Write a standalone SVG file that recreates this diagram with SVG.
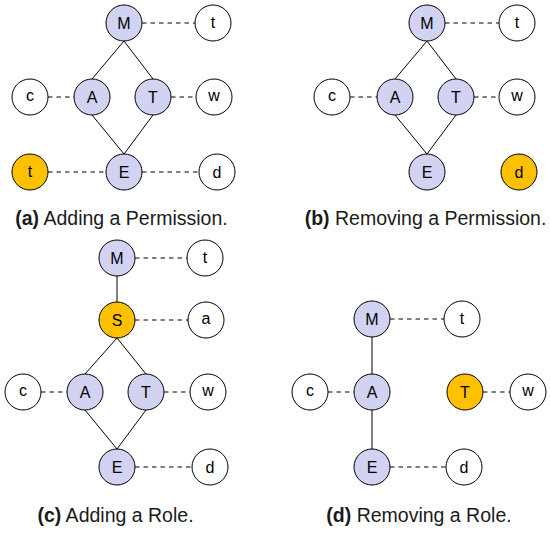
<svg xmlns="http://www.w3.org/2000/svg" width="550" height="534" viewBox="0 0 550 534">
<style>
  .n circle{stroke:#000;stroke-width:1;fill:#fff}
  .r circle{fill:#d2d2f2}
  .o circle{fill:#ffc000}
  .n text{font-family:"Liberation Sans","DejaVu Sans",sans-serif;font-size:16px;fill:#000;text-anchor:middle}
  .e line{stroke:#000;stroke-width:1;fill:none}
  .e line.d{stroke-dasharray:4.5,4}
  .cap{font-family:"Liberation Sans","DejaVu Sans",sans-serif;font-size:19.5px;fill:#1a1a1a;text-anchor:middle}
  .cap tspan{font-weight:bold}
</style>
<rect width="550" height="534" fill="#fff"/>

<!-- (a) -->
<g id="a-edges" class="e">
  <line x1="124" y1="41" x2="92" y2="79"/>
  <line x1="124" y1="41" x2="153" y2="79"/>
  <line x1="92" y1="115" x2="124" y2="154"/>
  <line x1="153" y1="115" x2="124" y2="154"/>
  <line class="d" x1="142" y1="23" x2="195" y2="23"/>
  <line class="d" x1="48" y1="97" x2="74" y2="97"/>
  <line class="d" x1="171" y1="97" x2="196" y2="97"/>
  <line class="d" x1="48" y1="172" x2="106" y2="172"/>
  <line class="d" x1="142" y1="172" x2="199" y2="172"/>
</g>
<g id="a-M" class="n r"><circle cx="124" cy="23" r="18"/><text x="124" y="28.7">M</text></g>
<g id="a-t" class="n"><circle cx="213" cy="23" r="18"/><text x="213" y="28.4">t</text></g>
<g id="a-c" class="n"><circle cx="30" cy="97" r="18"/><text x="30" y="101.2">c</text></g>
<g id="a-A" class="n r"><circle cx="92" cy="97" r="18"/><text x="92" y="102.7">A</text></g>
<g id="a-T" class="n r"><circle cx="153" cy="97" r="18"/><text x="153" y="102.7">T</text></g>
<g id="a-w" class="n"><circle cx="214" cy="97" r="18"/><text x="214" y="101.2">w</text></g>
<g id="a-t2" class="n o"><circle cx="30" cy="172" r="18"/><text x="30" y="177.4">t</text></g>
<g id="a-E" class="n r"><circle cx="124" cy="172" r="18"/><text x="124" y="177.7">E</text></g>
<g id="a-d" class="n"><circle cx="217" cy="172" r="18"/><text x="217" y="177.8">d</text></g>
<text class="cap" x="121.5" y="225"><tspan>(a)</tspan> Adding a Permission.</text>

<!-- (b) -->
<g id="b-edges" class="e">
  <line x1="427" y1="41" x2="395" y2="79"/>
  <line x1="427" y1="41" x2="456" y2="79"/>
  <line x1="395" y1="115" x2="427" y2="154"/>
  <line x1="456" y1="115" x2="427" y2="154"/>
  <line class="d" x1="445" y1="23" x2="499" y2="23"/>
  <line class="d" x1="350" y1="97" x2="377" y2="97"/>
  <line class="d" x1="474" y1="97" x2="499" y2="97"/>
</g>
<g id="b-M" class="n r"><circle cx="427" cy="23" r="18"/><text x="427" y="28.7">M</text></g>
<g id="b-t" class="n"><circle cx="517" cy="23" r="18"/><text x="517" y="28.4">t</text></g>
<g id="b-c" class="n"><circle cx="332" cy="97" r="18"/><text x="332" y="101.2">c</text></g>
<g id="b-A" class="n r"><circle cx="395" cy="97" r="18"/><text x="395" y="102.7">A</text></g>
<g id="b-T" class="n r"><circle cx="456" cy="97" r="18"/><text x="456" y="102.7">T</text></g>
<g id="b-w" class="n"><circle cx="517" cy="97" r="18"/><text x="517" y="101.2">w</text></g>
<g id="b-E" class="n r"><circle cx="427" cy="172" r="18"/><text x="427" y="177.7">E</text></g>
<g id="b-d" class="n o"><circle cx="519" cy="172" r="18"/><text x="519" y="177.8">d</text></g>
<text class="cap" x="425.5" y="225"><tspan>(b)</tspan> Removing a Permission.</text>

<!-- (c) -->
<g id="c-edges" class="e">
  <line x1="117" y1="276" x2="117" y2="302"/>
  <line x1="117" y1="338" x2="85" y2="374"/>
  <line x1="117" y1="338" x2="146" y2="374"/>
  <line x1="85" y1="410" x2="117" y2="449"/>
  <line x1="146" y1="410" x2="117" y2="449"/>
  <line class="d" x1="135" y1="258" x2="187" y2="258"/>
  <line class="d" x1="135" y1="320" x2="188" y2="320"/>
  <line class="d" x1="41" y1="392" x2="67" y2="392"/>
  <line class="d" x1="164" y1="392" x2="190" y2="392"/>
  <line class="d" x1="135" y1="467" x2="192" y2="467"/>
</g>
<g id="c-M" class="n r"><circle cx="117" cy="258" r="18"/><text x="117" y="263.7">M</text></g>
<g id="c-t" class="n"><circle cx="205" cy="258" r="18"/><text x="205" y="263.4">t</text></g>
<g id="c-S" class="n o"><circle cx="117" cy="320" r="18"/><text x="117" y="325.7">S</text></g>
<g id="c-a" class="n"><circle cx="206" cy="320" r="18"/><text x="206" y="324.2">a</text></g>
<g id="c-c" class="n"><circle cx="23" cy="392" r="18"/><text x="23" y="396.2">c</text></g>
<g id="c-A" class="n r"><circle cx="85" cy="392" r="18"/><text x="85" y="397.7">A</text></g>
<g id="c-T" class="n r"><circle cx="146" cy="392" r="18"/><text x="146" y="397.7">T</text></g>
<g id="c-w" class="n"><circle cx="208" cy="392" r="18"/><text x="208" y="396.2">w</text></g>
<g id="c-E" class="n r"><circle cx="117" cy="467" r="18"/><text x="117" y="472.7">E</text></g>
<g id="c-d" class="n"><circle cx="210" cy="467" r="18"/><text x="210" y="472.8">d</text></g>
<text class="cap" x="115.5" y="522"><tspan>(c)</tspan> Adding a Role.</text>

<!-- (d) -->
<g id="d-edges" class="e">
  <line x1="372" y1="337" x2="372" y2="374"/>
  <line x1="372" y1="410" x2="372" y2="449"/>
  <line class="d" x1="390" y1="319" x2="444" y2="319"/>
  <line class="d" x1="328" y1="392" x2="354" y2="392"/>
  <line class="d" x1="483" y1="392" x2="510" y2="392"/>
  <line class="d" x1="390" y1="467" x2="446" y2="467"/>
</g>
<g id="d-M" class="n r"><circle cx="372" cy="319" r="18"/><text x="372" y="324.7">M</text></g>
<g id="d-t" class="n"><circle cx="462" cy="319" r="18"/><text x="462" y="324.4">t</text></g>
<g id="d-c" class="n"><circle cx="310" cy="392" r="18"/><text x="310" y="396.2">c</text></g>
<g id="d-A" class="n r"><circle cx="372" cy="392" r="18"/><text x="372" y="397.7">A</text></g>
<g id="d-T" class="n o"><circle cx="465" cy="392" r="18"/><text x="465" y="397.7">T</text></g>
<g id="d-w" class="n"><circle cx="528" cy="392" r="18"/><text x="528" y="396.2">w</text></g>
<g id="d-E" class="n r"><circle cx="372" cy="467" r="18"/><text x="372" y="472.7">E</text></g>
<g id="d-d" class="n"><circle cx="464" cy="467" r="18"/><text x="464" y="472.8">d</text></g>
<text class="cap" x="419" y="522"><tspan>(d)</tspan> Removing a Role.</text>
</svg>
